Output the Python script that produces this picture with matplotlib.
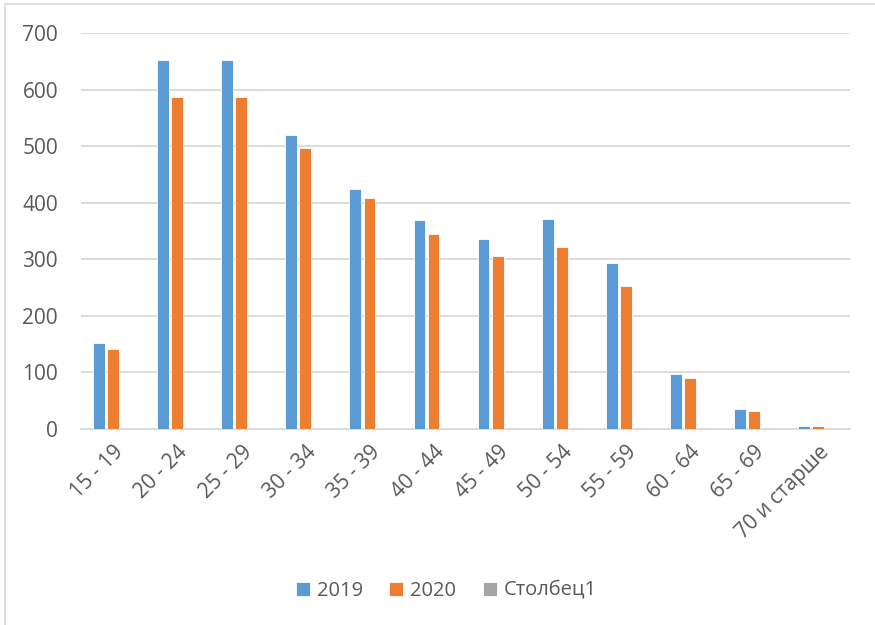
import numpy as np
import matplotlib
matplotlib.use("Agg")
import matplotlib.pyplot as plt
from matplotlib.lines import Line2D

# ── Data ────────────────────────────────────────────────────────────────
age_groups = ["15 - 19", "20 - 24", "25 - 29", "30 - 34", "35 - 39", "40 - 44",
              "45 - 49", "50 - 54", "55 - 59", "60 - 64", "65 - 69", "70 и старше"]
values_2019 = [152, 653, 653, 520, 424, 369, 335, 372, 294, 98, 35, 5]
values_2020 = [141, 586, 586, 497, 408, 344, 305, 322, 252, 91, 32, 5]
values_col1 = [0] * len(age_groups)   # empty series, only shown in legend

series_names = ["2019", "2020", "Столбец1"]
colors = ["#5b9bd5", "#ed7d31", "#a5a5a5"]

plt.rcParams["font.family"] = ["Open Sans", "DejaVu Sans"]
text_color = "#595959"

fig = plt.figure(figsize=(8.75, 6.25), dpi=100)
ax = fig.add_axes([0.0926, 0.3136, 0.879, 0.6336])

x = np.arange(len(age_groups))
w = 0.185
step = 0.22
for k, (vals, name, col) in enumerate(zip([values_2019, values_2020, values_col1],
                                          series_names, colors)):
    ax.bar(x + (k - 1) * step, vals, width=w, color=col, label=name,
           edgecolor="white", linewidth=0.6, zorder=3)

ax.set_xlim(-0.5, len(age_groups) - 0.5)
ax.set_ylim(0, 700)
ax.set_yticks(range(0, 701, 100))
ax.yaxis.grid(True, color="#d9d9d9", linewidth=1.3, zorder=0)
ax.set_axisbelow(True)

for side in ["top", "right", "left"]:
    ax.spines[side].set_visible(False)
ax.spines["bottom"].set_color("#d9d9d9")
ax.spines["bottom"].set_linewidth(1.3)

ax.tick_params(axis="both", length=0, colors=text_color, labelsize=15)
ax.tick_params(axis="y", pad=16.5)
ax.set_xticks(x)
ax.set_xticklabels(age_groups, rotation=45, ha="right", rotation_mode="anchor")
ax.tick_params(axis="x", pad=9)

leg = fig.legend(loc="center", bbox_to_anchor=(0.51, 0.055), ncol=3, frameon=False,
                 fontsize=14.5, handlelength=0.7, handleheight=0.7,
                 handletextpad=0.35, columnspacing=1.3)
for t in leg.get_texts():
    t.set_color(text_color)

# chart-area border (only top and left edges visible in the crop)
fig.add_artist(Line2D([0.006, 1.0], [0.9935, 0.9935], transform=fig.transFigure,
                      color="#d9d9d9", linewidth=1.2))
fig.add_artist(Line2D([0.006, 0.006], [0.0, 0.9935], transform=fig.transFigure,
                      color="#d9d9d9", linewidth=1.2))

fig.savefig("out.png", dpi=100)
